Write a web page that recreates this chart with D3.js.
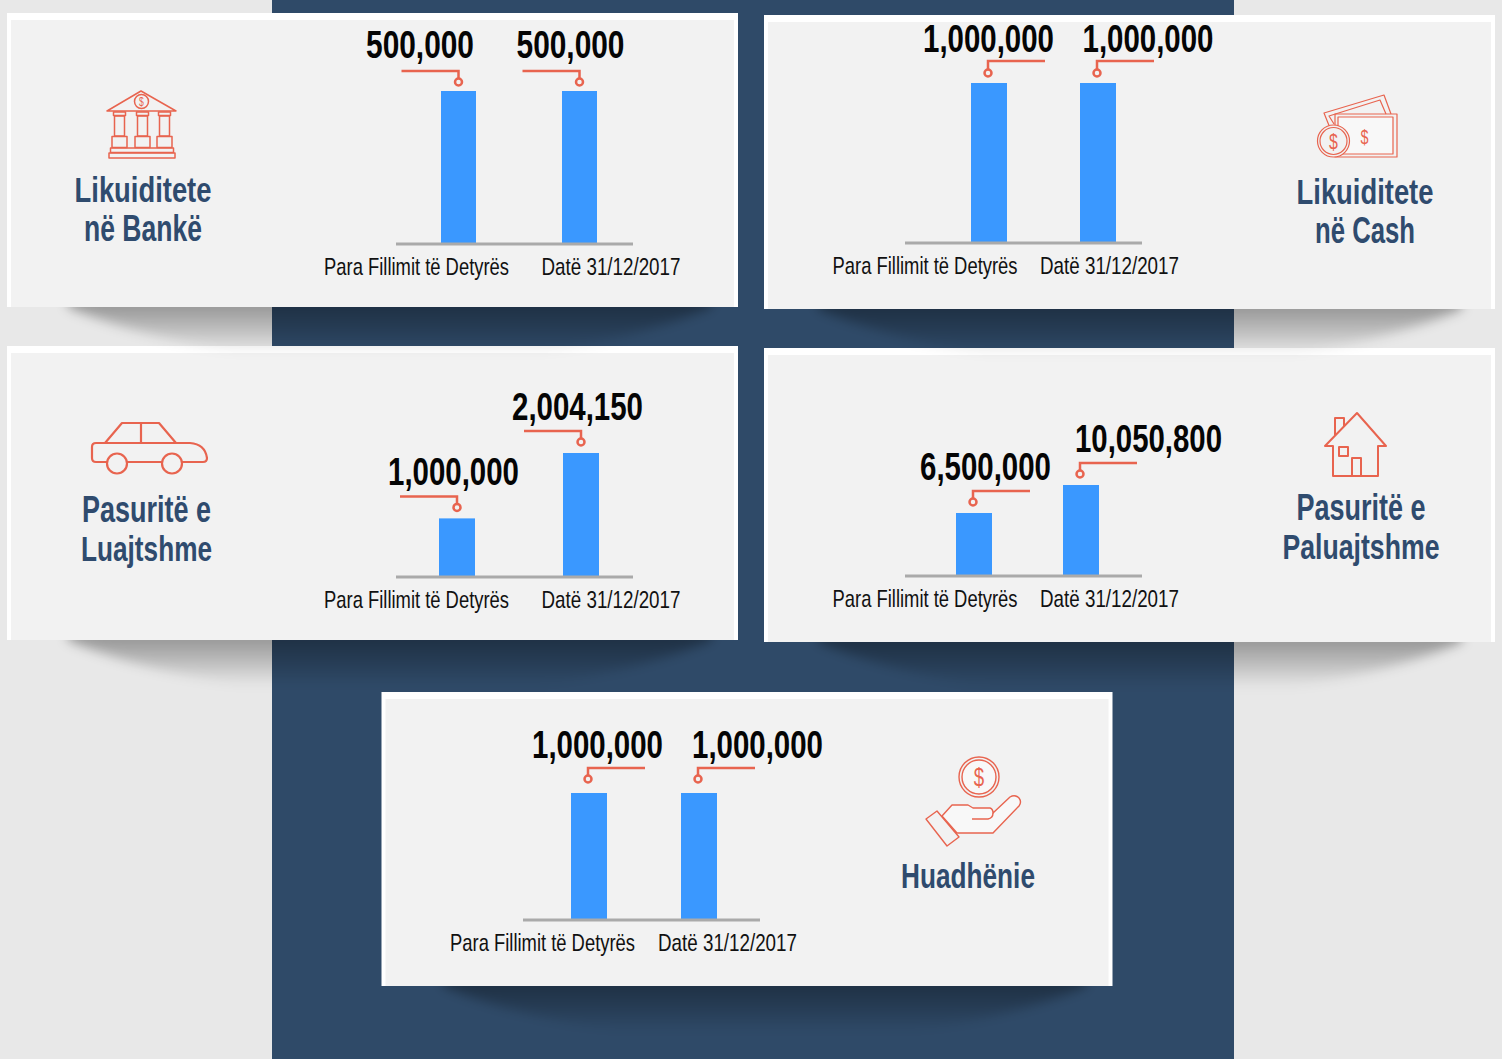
<!DOCTYPE html>
<html lang="en">

<head>
    <meta charset="UTF-8">
    <title>Likuiditete dhe Pasuri</title>
    <script src="https://d3js.org/d3.v7.min.js"></script>
    <style>
        html, body { margin: 0; padding: 0; background: #e8e8e8; overflow: hidden; }
        svg { display: block; }
        text { font-family: "Liberation Sans Narrow", "Liberation Sans", sans-serif; }
    </style>
</head>

<body>
    <div id="chart"></div>

    <script>
        // values
        const categories = ["Para Fillimit të Detyrës", "Datë 31/12/2017"];
        const bankValues = [500000, 500000];
        const cashValues = [1000000, 1000000];
        const movableValues = [1000000, 2004150];
        const fixedValues = [6500000, 10050800];
        const loanValues = [1000000, 1000000];
        const bankTitle = ["Likuiditete", "në Bankë"];
        const cashTitle = ["Likuiditete", "në Cash"];
        const movableTitle = ["Pasuritë e", "Luajtshme"];
        const fixedTitle = ["Pasuritë e", "Paluajtshme"];
        const loanTitle = ["Huadhënie"];

        const navy = "#2f4a68";
        const titleBlue = "#2f4b6e";
        const barBlue = "#3a98ff";
        const coral = "#e8644f";

        // measured widths, the installed narrow font is not the same as the one in the picture
        const textWidths = {
            "500,000": 108, "1,000,000": 131, "2,004,150": 131, "6,500,000": 131, "10,050,800": 147,
            "Para Fillimit të Detyrës": 185, "Datë 31/12/2017": 139,
            "Likuiditete": 137, "në Bankë": 118, "në Cash": 100, "Pasuritë e": 129,
            "Luajtshme": 131, "Paluajtshme": 157, "Huadhënie": 134
        };

        // drawn last to first so a shadow can fall on the panel below it
        const panels = [
            { values: loanValues, title: loanTitle, icon: loanIcon, x: 381.5, y: 692, shadow: 765, barW: 36,
              axis: [523, 760, 920], top: 793, floor: 0, bars: [589, 699], ticks: [542.5, 727.5], tickY: 951,
              labels: [597.5, 757.5], lift: 10, lineUp: 25, dotUp: 14, side: 1, titleX: 968, titleY: 888 },
            { values: movableValues, title: movableTitle, icon: carIcon, x: 7, y: 346, shadow: 390, barW: 36,
              axis: [396, 633, 577], top: 453, floor: 100000, bars: [457, 581], ticks: [416.5, 611], tickY: 608,
              labels: [453.5, 577.5], lift: 11, lineUp: 22, dotUp: 11, side: -1, titleX: 146.5, titleY: 522 },
            { values: fixedValues, title: fixedTitle, icon: houseIcon, x: 764, y: 348, shadow: 1140, barW: 36,
              axis: [905, 1142, 576], top: 485, floor: -1490000, bars: [974, 1081], ticks: [925, 1109.5], tickY: 607,
              labels: [985.5, 1148.5], lift: 11, lineUp: 22, dotUp: 11, side: 1, titleX: 1361, titleY: 520 },
            { values: bankValues, title: bankTitle, icon: bankIcon, x: 7, y: 13, shadow: 390, barW: 35,
              axis: [396, 633, 244], top: 91, floor: 0, bars: [458.5, 579.5], ticks: [416.5, 611], tickY: 275,
              labels: [420, 570.5], lift: 13, lineUp: 20, dotUp: 9, side: -1, titleX: 143, titleY: 202 },
            { values: cashValues, title: cashTitle, icon: cashIcon, x: 764, y: 15, shadow: 1140, barW: 36,
              axis: [905, 1142, 243], top: 83, floor: 0, bars: [989, 1098], ticks: [925, 1109.5], tickY: 274,
              labels: [988.5, 1148], lift: 9, lineUp: 22, dotUp: 10, side: 1, titleX: 1365, titleY: 204 }
        ];

        const panelWidth = 731;
        const panelHeight = 294;
        const connectorLength = 57;

        const svg = d3.select("#chart")
            .append("svg")
            .attr("width", 1502)
            .attr("height", 1059);

        const defs = svg.append("defs");

        const shadowFill = defs.append("linearGradient")
            .attr("id", "shadow-fill")
            .attr("x1", 0).attr("y1", 0).attr("x2", 0).attr("y2", 1);
        shadowFill.append("stop").attr("offset", "0%").attr("stop-color", "#000").attr("stop-opacity", 0.4);
        shadowFill.append("stop").attr("offset", "45%").attr("stop-color", "#000").attr("stop-opacity", 0.2);
        shadowFill.append("stop").attr("offset", "85%").attr("stop-color", "#000").attr("stop-opacity", 0);

        defs.append("filter")
            .attr("id", "shadow-blur")
            .attr("x", "-5%").attr("y", "-20%").attr("width", "110%").attr("height", "140%")
            .append("feGaussianBlur")
            .attr("stdDeviation", 6);

        svg.append("rect")
            .attr("x", 272).attr("y", 0)
            .attr("width", 962).attr("height", 1059)
            .attr("fill", navy);

        // squeeze a centred text to its measured width
        function fitText(sel, content, x, y) {
            sel.text(content).attr("text-anchor", "middle");
            const k = textWidths[content] / sel.node().getComputedTextLength();
            sel.attr("transform", `translate(${x},${y}) scale(${k},1)`);
        }

        function drawPanel(p) {
            const g = svg.append("g");
            const bottom = p.y + panelHeight;

            // half ellipse under the panel
            const d = d3.path();
            d.moveTo(p.shadow - 322, bottom - 10);
            d.lineTo(p.shadow - 322, bottom);
            d.bezierCurveTo(p.shadow - 250, bottom + 32, p.shadow - 120, bottom + 56, p.shadow, bottom + 56);
            d.bezierCurveTo(p.shadow + 120, bottom + 56, p.shadow + 250, bottom + 32, p.shadow + 322, bottom);
            d.lineTo(p.shadow + 322, bottom - 10);
            d.closePath();
            g.append("path")
                .attr("d", d.toString())
                .attr("fill", "url(#shadow-fill)")
                .attr("filter", "url(#shadow-blur)");

            g.append("rect")
                .attr("x", p.x).attr("y", p.y)
                .attr("width", panelWidth).attr("height", panelHeight)
                .attr("fill", "#fff");
            g.append("rect")
                .attr("x", p.x + 4).attr("y", p.y + 7)
                .attr("width", panelWidth - 8).attr("height", panelHeight - 7)
                .attr("fill", "#f2f2f2");

            // every panel has its own scale, the bars do not share a common one
            const baseY = p.axis[2];
            const y = d3.scaleLinear()
                .domain([p.floor, d3.max(p.values)])
                .range([baseY, p.top]);
            const xBar = d3.scaleOrdinal().domain(categories).range(p.bars);
            const xTick = d3.scaleOrdinal().domain(categories).range(p.ticks);
            const xLabel = d3.scaleOrdinal().domain(categories).range(p.labels);
            const rows = categories.map((c, i) => ({ category: c, value: p.values[i] }));
            const dotX = d => xBar(d.category) - (p.side > 0 ? 1 : 0);

            g.selectAll(".bar")
                .data(rows)
                .enter()
                .append("rect")
                .attr("class", "bar")
                .attr("x", d => xBar(d.category) - p.barW / 2)
                .attr("y", d => y(d.value))
                .attr("width", p.barW)
                .attr("height", d => baseY - y(d.value))
                .attr("fill", barBlue);

            g.append("line")
                .attr("x1", p.axis[0]).attr("x2", p.axis[1])
                .attr("y1", baseY).attr("y2", baseY)
                .attr("stroke", "#aaa")
                .attr("stroke-width", 3);

            g.selectAll(".tick-label")
                .data(rows)
                .enter()
                .append("text")
                .attr("class", "tick-label")
                .attr("font-size", 24)
                .attr("fill", "#111")
                .each(function (d) { fitText(d3.select(this), d.category, xTick(d.category), p.tickY); });

            g.selectAll(".connector")
                .data(rows)
                .enter()
                .append("path")
                .attr("class", "connector")
                .attr("d", d => {
                    const top = y(d.value);
                    return `M${dotX(d) + p.side * connectorLength},${top - p.lineUp}H${dotX(d)}V${top - p.dotUp - 3}`;
                })
                .attr("fill", "none")
                .attr("stroke", coral)
                .attr("stroke-width", 2.5);

            g.selectAll(".dot")
                .data(rows)
                .enter()
                .append("circle")
                .attr("class", "dot")
                .attr("cx", dotX)
                .attr("cy", d => y(d.value) - p.dotUp)
                .attr("r", 3.5)
                .attr("fill", "#f2f2f2")
                .attr("stroke", coral)
                .attr("stroke-width", 2.5);

            g.selectAll(".value-label")
                .data(rows)
                .enter()
                .append("text")
                .attr("class", "value-label")
                .attr("font-size", 38)
                .attr("font-weight", 700)
                .attr("fill", "#050505")
                .each(function (d) {
                    fitText(d3.select(this), d3.format(",")(d.value), xLabel(d.category), y(d.value) - p.lineUp - p.lift);
                });

            p.title.forEach((line, i) => {
                g.append("text")
                    .attr("font-size", 36)
                    .attr("font-weight", 700)
                    .attr("fill", titleBlue)
                    .call(fitText, line, p.titleX, p.titleY + i * 39);
            });

            const iconG = g.append("g")
                .attr("fill", "none")
                .attr("stroke", coral)
                .attr("stroke-width", 1.5)
                .attr("stroke-linejoin", "round");
            p.icon(iconG);
        }

        function dollar(g, x, y, size) {
            g.append("text")
                .attr("transform", `translate(${x},${y}) scale(0.72,1)`)
                .attr("text-anchor", "middle")
                .attr("font-size", size)
                .attr("fill", coral)
                .attr("stroke", "none")
                .text("$");
        }

        function bankIcon(g) {
            g.append("path").attr("d", "M107,111L141,91L176,111Z");
            g.append("circle").attr("cx", 141.5).attr("cy", 101.5).attr("r", 7);
            dollar(g, 141.5, 106, 12);
            [119.5, 142.5, 164.5].forEach(c => {
                g.append("rect").attr("x", c - 6).attr("y", 112).attr("width", 12).attr("height", 3.5);
                g.append("rect").attr("x", c - 5).attr("y", 116).attr("width", 10).attr("height", 20);
                g.append("rect").attr("x", c - 7.5).attr("y", 136.5).attr("width", 15).attr("height", 11);
            });
            g.append("rect").attr("x", 110.5).attr("y", 148).attr("width", 63).attr("height", 4.5);
            g.append("rect").attr("x", 109).attr("y", 153).attr("width", 66).attr("height", 5);
        }

        function cashIcon(g) {
            g.attr("stroke-width", 1.2);
            g.append("path").attr("d", "M1330,128L1324,113L1384,95L1391,114");
            g.append("path").attr("d", "M1334,124L1329,116L1380,100L1386,114");
            g.append("rect").attr("x", 1335).attr("y", 114).attr("width", 62).attr("height", 43);
            g.append("rect").attr("x", 1338).attr("y", 117).attr("width", 55).attr("height", 37).attr("fill", "#f8f8f8");
            g.append("circle").attr("cx", 1333.5).attr("cy", 141).attr("r", 16).attr("fill", "#f2f2f2");
            g.append("circle").attr("cx", 1333.5).attr("cy", 141).attr("r", 13.5);
            dollar(g, 1333.5, 149, 22);
            dollar(g, 1364.5, 144, 20);
        }

        function carIcon(g) {
            g.attr("stroke-width", 2.2);
            g.append("path").attr("d", "M107,462H96Q92,462 92,458V447Q92,443 96,443H190Q205,444 207,458Q207,462 203,462H182M162,462H127");
            g.append("path").attr("d", "M105,443L122,423H159L176,443M141,423V443");
            g.append("circle").attr("cx", 117).attr("cy", 463.5).attr("r", 10);
            g.append("circle").attr("cx", 172).attr("cy", 463.5).attr("r", 10);
        }

        function houseIcon(g) {
            g.attr("stroke-width", 2);
            g.append("path").attr("d", "M1333,446H1325L1357,413L1386,446H1378V476H1333Z");
            g.append("path").attr("d", "M1335,435V418H1344V426");
            g.append("rect").attr("x", 1339).attr("y", 447).attr("width", 9).attr("height", 9);
            g.append("path").attr("d", "M1352,476V458H1361V476");
        }

        function loanIcon(g) {
            g.attr("stroke-width", 1.4);
            g.append("circle").attr("cx", 979).attr("cy", 777).attr("r", 20);
            g.append("circle").attr("cx", 979).attr("cy", 777).attr("r", 17).attr("fill", "#f8f8f8");
            dollar(g, 979, 786, 26);
            g.append("path").attr("d", "M926,819L937,811L959,837L947,846Z");
            g.append("path")
                .attr("fill", "#f8f8f8")
                .attr("d", "M942,816L952,805H968L973,808H990Q993,809 993,813L1010,797Q1015,794 1019,798Q1022,802 1019,806L993,833H957Z");
            g.append("path").attr("d", "M993,813Q993,818 988,819H972");
        }

        panels.forEach(drawPanel);
    </script>
</body>

</html>
